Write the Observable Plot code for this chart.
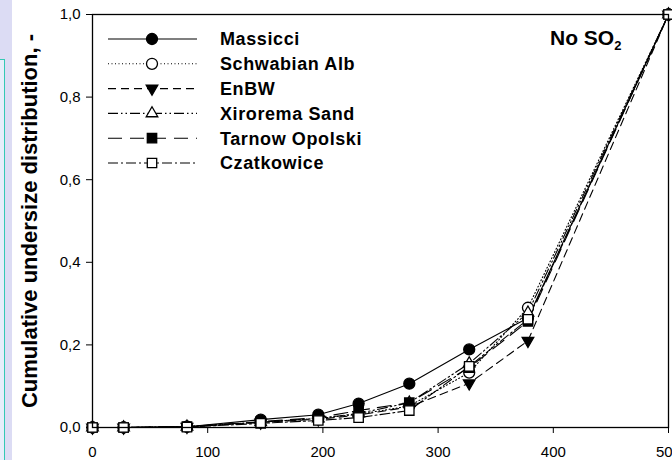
<!DOCTYPE html>
<html><head><meta charset="utf-8">
<script src="https://cdn.jsdelivr.net/npm/d3@7"></script>
<script src="https://cdn.jsdelivr.net/npm/@observablehq/plot@0.6"></script>
<style>
body{margin:0;background:#fff;width:672px;height:460px;overflow:hidden;position:relative;font-family:"Liberation Sans",Arial,sans-serif}
#strip{position:absolute;left:0;top:0;width:12px;height:460px;background:#dcdcf4}
#box{position:absolute;left:-2px;top:59px;width:6px;height:410px;border-top:1.5px solid #33c9b3;border-right:1.5px solid #33c9b3;background:#e6eefa}
#chart{position:absolute;left:0;top:0}
</style></head>
<body>
<div id="strip"></div><div id="box"></div>
<div id="chart"></div>
<script>
// particle size (x) values
const sizes = [0, 27, 82, 146, 196, 231, 275, 327, 378, 500];
const seriesNames = ["Massicci", "Schwabian Alb", "EnBW", "Xirorema Sand", "Tarnow Opolski", "Czatkowice"];
const massicci   = [0, 0, 0.002, 0.019, 0.031, 0.058, 0.106, 0.189, 0.265, 1.0];
const schwabian  = [0, 0, 0.002, 0.013, 0.022, 0.032, 0.052, 0.133, 0.290, 1.0];
const enbw       = [0, 0, 0.002, 0.012, 0.020, 0.030, 0.050, 0.107, 0.210, 1.0];
const xirorema   = [0, 0, 0.002, 0.013, 0.022, 0.034, 0.060, 0.155, 0.278, 1.0];
const tarnow     = [0, 0, 0.002, 0.014, 0.024, 0.041, 0.060, 0.145, 0.257, 1.0];
const czatkowice = [0, 0, 0.001, 0.010, 0.017, 0.024, 0.041, 0.148, 0.262, 1.0];
const xTicks = [0, 100, 200, 300, 400, 500];
const yTicks = [0, 0.2, 0.4, 0.6, 0.8, 1.0];
const yLabel = "Cumulative undersize distribution, -";
const annotation = "No SO";
const annotationSub = "2";

const values = [massicci, schwabian, enbw, xirorema, tarnow, czatkowice];
const styles = [
  {dash: null, symbol: "circle", d3sym: d3.symbolCircle, fill: "black", rotate: 0, r: 5.5},
  {dash: "1,2.5", symbol: "circle", d3sym: d3.symbolCircle, fill: "white", rotate: 0, r: 5.5},
  {dash: "8,5", symbol: "triangle", d3sym: d3.symbolTriangle, fill: "black", rotate: 180, r: 4.3},
  {dash: "10,3,1.5,3,1.5,3", symbol: "triangle", d3sym: d3.symbolTriangle, fill: "white", rotate: 0, r: 4.3},
  {dash: "14,8", symbol: "square", d3sym: d3.symbolSquare, fill: "black", rotate: 0, r: 5.3},
  {dash: "10,3,2,3", symbol: "square", d3sym: d3.symbolSquare, fill: "white", rotate: 0, r: 5.3}
];
const rows = seriesNames.map((name, i) => sizes.map((x, j) => ({series: name, x, y: values[i][j]})));

const font = "Liberation Sans, Arial, sans-serif";
const lineMarks = rows.map((r, i) => Plot.line(r, {x: "x", y: "y", stroke: "black", strokeWidth: 1.1, strokeDasharray: styles[i].dash}));
const dotMarks = rows.map((r, i) => Plot.dot(r, {x: "x", y: "y", symbol: styles[i].symbol, r: styles[i].r, fill: styles[i].fill, stroke: "black", strokeWidth: 1.3, rotate: styles[i].rotate}));

const plot = Plot.plot({
  width: 672, height: 460,
  marginLeft: 92, marginRight: 4, marginTop: 14, marginBottom: 33,
  style: {background: "transparent", fontFamily: font, fontSize: "15px", color: "black", overflow: "visible"},
  x: {domain: [0, 500], ticks: xTicks, tickSize: 6, tickPadding: 13, label: null, tickFormat: d => String(d)},
  y: {domain: [0, 1], ticks: yTicks, tickSize: 6, tickPadding: 6, label: null, tickFormat: d => d.toFixed(1).replace(".", ",")},
  marks: [
    ...lineMarks,
    ...dotMarks,
    Plot.frame({stroke: "black", strokeWidth: 1.3}),
    Plot.text([yLabel], {text: d => d, frameAnchor: "left", textAnchor: "middle", lineAnchor: "middle", rotate: -90, dx: -63, fontSize: 22, fontWeight: "bold", fill: "black"})
  ]
});
document.getElementById("chart").appendChild(plot);

// legend and annotation inside the frame
const svg = d3.select(plot);
const lg = svg.append("g").attr("font-family", font).attr("text-anchor", "start");
seriesNames.forEach((name, i) => {
  const s = styles[i];
  const y = 39 + i * 24.8;
  lg.append("line").attr("x1", 108).attr("x2", 197).attr("y1", y).attr("y2", y)
    .attr("stroke", "black").attr("stroke-width", 1.1).attr("stroke-dasharray", s.dash);
  lg.append("path").attr("d", d3.symbol(s.d3sym, Math.PI * s.r * s.r)())
    .attr("transform", `translate(152,${y}) rotate(${s.rotate})`)
    .attr("fill", s.fill).attr("stroke", "black").attr("stroke-width", 1.3);
  lg.append("text").attr("x", 220).attr("y", y).attr("dy", "0.35em")
    .attr("font-size", 18).attr("font-weight", "bold").attr("letter-spacing", 0.6).text(name);
});
const ann = svg.append("text").attr("x", 550).attr("y", 45).attr("font-family", font)
  .attr("text-anchor", "start").attr("font-size", 21).attr("font-weight", "bold");
ann.append("tspan").text(annotation);
ann.append("tspan").attr("font-size", 13).attr("dy", 5).text(annotationSub);
</script>
</body></html>
